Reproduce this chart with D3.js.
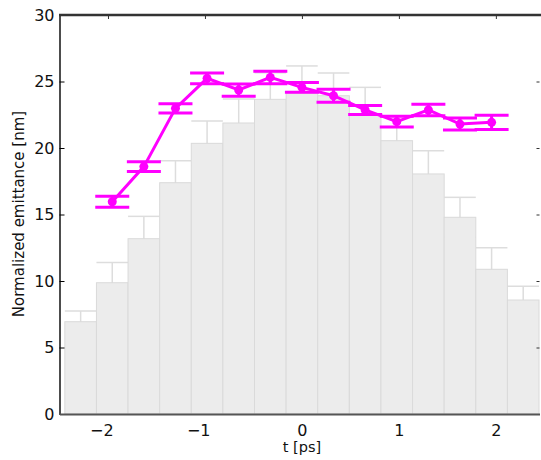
<!DOCTYPE html>
<html>
<head>
<meta charset="utf-8">
<title>Normalized emittance</title>
<script src="https://cdn.jsdelivr.net/npm/d3@7"></script>
<style>
  body { margin: 0; background: #fff; }
  text { font-family: "DejaVu Sans", sans-serif; }
</style>
</head>
<body>
<div id="chart"></div>
<script>
// slice centres [ps] and gray histogram values
const binCenters = [-2.282, -1.956, -1.630, -1.304, -0.978, -0.652, -0.326, 0, 0.326, 0.652, 0.978, 1.304, 1.630, 1.956, 2.282];
const binWidth = 0.326;
const barValues = [6.94, 9.87, 13.18, 17.39, 20.35, 21.88, 23.66, 24.11, 23.93, 22.48, 20.55, 18.05, 14.79, 10.88, 8.57];
const barErrors = [0.8, 1.53, 1.68, 1.66, 1.68, 1.8, 2.0, 2.06, 1.7, 2.08, 1.8, 1.75, 1.5, 1.62, 1.03];

// magenta measurement
const pointT = [-1.956, -1.630, -1.304, -0.978, -0.652, -0.326, 0, 0.326, 0.652, 0.978, 1.304, 1.630, 1.956];
const pointValues = [15.96, 18.6, 22.98, 25.24, 24.36, 25.31, 24.56, 23.93, 22.86, 21.98, 22.86, 21.8, 21.93];
const pointErrors = [0.42, 0.36, 0.35, 0.4, 0.46, 0.47, 0.36, 0.49, 0.34, 0.4, 0.43, 0.45, 0.53];

const xTicks = [-2, -1, 0, 1, 2];
const yTicks = [0, 5, 10, 15, 20, 25, 30];

const w = 541, h = 460;
const svg = d3.select("#chart").append("svg").attr("width", w).attr("height", h);

const x = d3.scaleLinear().domain([-2.5, 2.45]).range([59.5, 539.5]);
const y = d3.scaleLinear().domain([0, 30]).range([414, 15]);

// gray error bars (behind the bars)
const gray = svg.append("g").attr("stroke", "#dddddd").attr("stroke-width", 1.5);
binCenters.forEach((t, i) => {
  let top = y(barValues[i] + barErrors[i]);
  let bot = y(barValues[i] - barErrors[i]);
  gray.append("line").attr("x1", x(t)).attr("x2", x(t)).attr("y1", top).attr("y2", bot);
  gray.append("line").attr("x1", x(t - binWidth / 2)).attr("x2", x(t + binWidth / 2)).attr("y1", top).attr("y2", top);
  gray.append("line").attr("x1", x(t - binWidth / 2)).attr("x2", x(t + binWidth / 2)).attr("y1", bot).attr("y2", bot);
});

svg.append("g").selectAll("rect")
  .data(barValues)
  .enter()
  .append("rect")
  .attr("x", (d, i) => x(binCenters[i] - binWidth / 2))
  .attr("width", (d, i) => x(binCenters[i] + binWidth / 2) - x(binCenters[i] - binWidth / 2))
  .attr("y", d => y(d))
  .attr("height", d => y(0) - y(d))
  .style("fill", "#ececec")
  .style("stroke", "#dadada")
  .style("stroke-width", 1);

// axes
const yAxis = d3.axisLeft(y).tickValues(yTicks).tickSizeInner(-5).tickSizeOuter(0).tickPadding(5);
const gy = svg.append("g").attr("transform", "translate(59.5,0)").call(yAxis);
gy.select(".domain").attr("stroke", "#000").attr("stroke-width", 1.4);
gy.selectAll("text").style("font-size", "16px").attr("fill", "#111");

const xAxis = d3.axisBottom(x).tickValues(xTicks).tickSizeInner(0).tickSizeOuter(0).tickPadding(10.6)
  .tickFormat(d => d < 0 ? "\u2212" + Math.abs(d) : d);
const gx = svg.append("g").attr("transform", "translate(0,414)").call(xAxis);
gx.select(".domain").attr("stroke", "#555").attr("stroke-width", 1.8);
gx.selectAll("text").style("font-size", "16px").attr("fill", "#111")
  .attr("text-anchor", "end").attr("dx", "0.318em");

const topAxis = d3.axisTop(x).tickValues(xTicks).tickSizeInner(-4).tickSizeOuter(0).tickFormat("");
const gt = svg.append("g").attr("transform", "translate(0,15)").call(topAxis);
gt.select(".domain").remove();
gt.selectAll("line").attr("stroke", "#333");
svg.append("line").attr("x1", 59).attr("x2", w).attr("y1", 15).attr("y2", 15)
  .attr("stroke", "#333").attr("stroke-width", 2.3);

const rightAxis = d3.axisRight(y).tickValues(yTicks.slice(1, -1)).tickSizeInner(-3).tickSizeOuter(0).tickFormat("");
const gr = svg.append("g").attr("transform", "translate(539.5,0)").call(rightAxis);
gr.select(".domain").remove();
gr.selectAll("line").attr("stroke", "#333");

// magenta series
const mag = "#ff00ff";
const line = d3.line().x((d, i) => x(pointT[i])).y(d => y(d));
svg.append("path").datum(pointValues).attr("d", line)
  .attr("fill", "none").attr("stroke", mag).attr("stroke-width", 3);

const capHalf = 17;
const me = svg.append("g").attr("stroke", mag).attr("stroke-width", 3);
pointT.forEach((t, i) => {
  let top = y(pointValues[i] + pointErrors[i]);
  let bot = y(pointValues[i] - pointErrors[i]);
  me.append("line").attr("x1", x(t)).attr("x2", x(t)).attr("y1", top).attr("y2", bot);
  me.append("line").attr("x1", x(t) - capHalf).attr("x2", x(t) + capHalf).attr("y1", top).attr("y2", top);
  me.append("line").attr("x1", x(t) - capHalf).attr("x2", x(t) + capHalf).attr("y1", bot).attr("y2", bot);
});
svg.append("g").selectAll("circle")
  .data(pointValues)
  .enter()
  .append("circle")
  .attr("cx", (d, i) => x(pointT[i]))
  .attr("cy", d => y(d))
  .attr("r", 4.5)
  .style("fill", mag);

// labels
svg.append("text").attr("x", x(0)).attr("y", 451.5).attr("text-anchor", "middle")
  .style("font-size", "14.5px").attr("fill", "#111").text("t [ps]");
svg.append("text").attr("transform", "translate(24,214) rotate(-90)").attr("text-anchor", "middle")
  .style("font-size", "15px").attr("fill", "#111").text("Normalized emittance [nm]");
</script>
</body>
</html>
